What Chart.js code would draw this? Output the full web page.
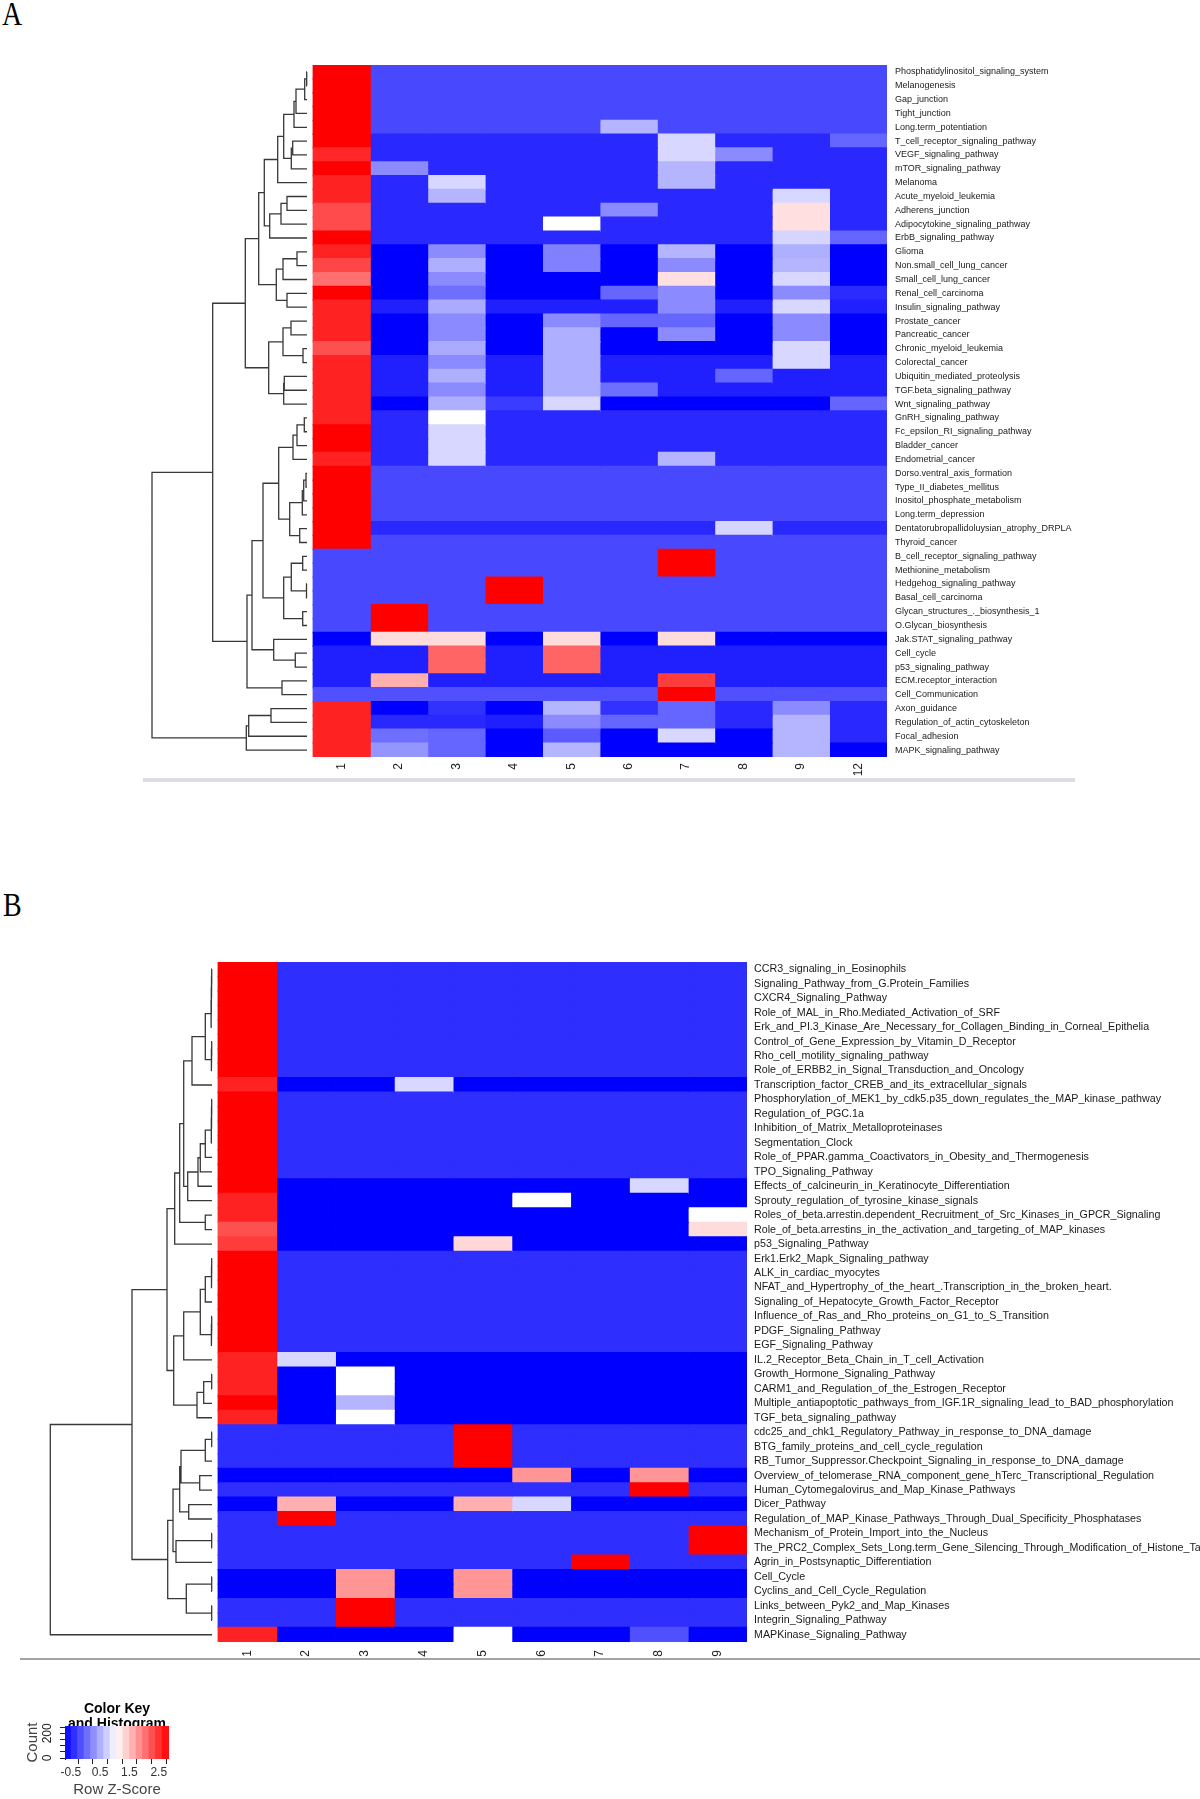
<!DOCTYPE html>
<html>
<head>
<meta charset="utf-8">
<script src="https://cdn.jsdelivr.net/npm/chart.js@4.4.1/dist/chart.umd.min.js"></script>
<style>
  body { margin: 0; background: #fff; width: 1200px; height: 1799px; position: relative; overflow: hidden; }
  canvas { position: absolute; }
  .tag { position: absolute; font-family: 'Liberation Serif', 'Times New Roman', serif; font-size: 28px; line-height: 28px; transform: scaleY(1.2); transform-origin: top left; color: #000; }
  .rule { position: absolute; }
</style>
</head>
<body>
<div class="tag" style="left:2px; top:-3px;">A</div>
<div class="tag" style="left:3px; top:888px;">B</div>
<canvas id="panelA" width="1200" height="800" style="left:0; top:0;"></canvas>
<div class="rule" style="left:143px; top:778px; width:932px; height:4px; background:#dcdce6;"></div>
<canvas id="panelB" width="1200" height="780" style="left:0; top:900px;"></canvas>
<div class="rule" style="left:20px; top:1658px; width:1180px; height:2px; background:#a4a4a4;"></div>
<canvas id="colorKey" width="234" height="109" style="left:0; top:1690px;"></canvas>
<script>
// Panel A: KEGG pathways (rows) x clusters (columns), row z-scores
const rowsA = [
  'Phosphatidylinositol_signaling_system', 'Melanogenesis', 'Gap_junction', 'Tight_junction',
  'Long.term_potentiation', 'T_cell_receptor_signaling_pathway', 'VEGF_signaling_pathway',
  'mTOR_signaling_pathway', 'Melanoma', 'Acute_myeloid_leukemia', 'Adherens_junction',
  'Adipocytokine_signaling_pathway', 'ErbB_signaling_pathway', 'Glioma', 'Non.small_cell_lung_cancer',
  'Small_cell_lung_cancer', 'Renal_cell_carcinoma', 'Insulin_signaling_pathway', 'Prostate_cancer',
  'Pancreatic_cancer', 'Chronic_myeloid_leukemia', 'Colorectal_cancer', 'Ubiquitin_mediated_proteolysis',
  'TGF.beta_signaling_pathway', 'Wnt_signaling_pathway', 'GnRH_signaling_pathway',
  'Fc_epsilon_RI_signaling_pathway', 'Bladder_cancer', 'Endometrial_cancer', 'Dorso.ventral_axis_formation',
  'Type_II_diabetes_mellitus', 'Inositol_phosphate_metabolism', 'Long.term_depression',
  'Dentatorubropallidoluysian_atrophy_DRPLA', 'Thyroid_cancer', 'B_cell_receptor_signaling_pathway',
  'Methionine_metabolism', 'Hedgehog_signaling_pathway', 'Basal_cell_carcinoma',
  'Glycan_structures_._biosynthesis_1', 'O.Glycan_biosynthesis', 'Jak.STAT_signaling_pathway',
  'Cell_cycle', 'p53_signaling_pathway', 'ECM.receptor_interaction', 'Cell_Communication',
  'Axon_guidance', 'Regulation_of_actin_cytoskeleton', 'Focal_adhesion', 'MAPK_signaling_pathway'
];
const colsA = ['1', '2', '3', '4', '5', '6', '7', '8', '9', '12'];
const zA = [
  [2.85, -0.2, -0.2, -0.2, -0.2, -0.2, -0.2, -0.2, -0.2, -0.2],
  [2.85, -0.2, -0.2, -0.2, -0.2, -0.2, -0.2, -0.2, -0.2, -0.2],
  [2.85, -0.2, -0.2, -0.2, -0.2, -0.2, -0.2, -0.2, -0.2, -0.2],
  [2.85, -0.2, -0.2, -0.2, -0.2, -0.2, -0.2, -0.2, -0.2, -0.2],
  [2.85, -0.2, -0.2, -0.2, -0.2, 0.55, -0.2, -0.2, -0.2, -0.2],
  [2.85, -0.42, -0.42, -0.42, -0.42, -0.42, 0.8, -0.42, -0.42, 0.0],
  [2.58, -0.42, -0.42, -0.42, -0.42, -0.42, 0.8, 0.27, -0.42, -0.42],
  [2.85, 0.27, -0.42, -0.42, -0.42, -0.42, 0.55, -0.42, -0.42, -0.42],
  [2.61, -0.42, 0.8, -0.42, -0.42, -0.42, 0.55, -0.42, -0.42, -0.42],
  [2.61, -0.42, 0.55, -0.42, -0.42, -0.42, -0.42, -0.42, 0.8, -0.42],
  [2.33, -0.42, -0.42, -0.42, -0.42, 0.27, -0.42, -0.42, 1.3, -0.42],
  [2.33, -0.42, -0.42, -0.42, 1.075, -0.42, -0.42, -0.42, 1.3, -0.42],
  [2.85, -0.42, -0.42, -0.42, -0.42, -0.42, -0.42, -0.42, 0.78, 0.0],
  [2.61, -0.7, 0.27, -0.7, 0.2, -0.7, 0.55, -0.7, 0.52, -0.7],
  [2.36, -0.7, 0.52, -0.7, 0.2, -0.7, 0.27, -0.7, 0.55, -0.7],
  [2.08, -0.7, 0.27, -0.7, -0.7, -0.7, 1.3, -0.7, 0.8, -0.7],
  [2.85, -0.7, 0.07, -0.7, -0.7, 0.0, 0.27, -0.7, 0.27, -0.4],
  [2.61, -0.48, 0.48, -0.48, -0.48, -0.48, 0.27, -0.48, 0.8, -0.48],
  [2.61, -0.7, 0.27, -0.7, 0.27, 0.0, 0.0, -0.7, 0.27, -0.7],
  [2.61, -0.7, 0.27, -0.7, 0.52, -0.7, 0.27, -0.7, 0.27, -0.7],
  [2.29, -0.7, 0.48, -0.7, 0.52, -0.7, -0.7, -0.7, 0.8, -0.7],
  [2.61, -0.48, 0.27, -0.48, 0.52, -0.48, -0.48, -0.48, 0.8, -0.48],
  [2.61, -0.48, 0.52, -0.48, 0.52, -0.48, -0.48, 0.0, -0.48, -0.48],
  [2.61, -0.48, 0.27, -0.48, 0.52, 0.07, -0.48, -0.48, -0.48, -0.48],
  [2.61, -0.7, 0.52, -0.28, 0.8, -0.7, -0.7, -0.7, -0.7, 0.0],
  [2.61, -0.42, 1.075, -0.42, -0.42, -0.42, -0.42, -0.42, -0.42, -0.42],
  [2.85, -0.42, 0.8, -0.42, -0.42, -0.42, -0.42, -0.42, -0.42, -0.42],
  [2.85, -0.42, 0.8, -0.42, -0.42, -0.42, -0.42, -0.42, -0.42, -0.42],
  [2.61, -0.42, 0.8, -0.42, -0.42, -0.42, 0.55, -0.42, -0.42, -0.42],
  [2.85, -0.2, -0.2, -0.2, -0.2, -0.2, -0.2, -0.2, -0.2, -0.2],
  [2.85, -0.2, -0.2, -0.2, -0.2, -0.2, -0.2, -0.2, -0.2, -0.2],
  [2.85, -0.2, -0.2, -0.2, -0.2, -0.2, -0.2, -0.2, -0.2, -0.2],
  [2.85, -0.2, -0.2, -0.2, -0.2, -0.2, -0.2, -0.2, -0.2, -0.2],
  [2.85, -0.42, -0.42, -0.42, -0.42, -0.42, -0.42, 0.78, -0.42, -0.42],
  [2.85, -0.2, -0.2, -0.2, -0.2, -0.2, -0.2, -0.2, -0.2, -0.2],
  [-0.2, -0.2, -0.2, -0.2, -0.2, -0.2, 2.85, -0.2, -0.2, -0.2],
  [-0.2, -0.2, -0.2, -0.2, -0.2, -0.2, 2.85, -0.2, -0.2, -0.2],
  [-0.2, -0.2, -0.2, 2.85, -0.2, -0.2, -0.2, -0.2, -0.2, -0.2],
  [-0.2, -0.2, -0.2, 2.85, -0.2, -0.2, -0.2, -0.2, -0.2, -0.2],
  [-0.2, 2.85, -0.2, -0.2, -0.2, -0.2, -0.2, -0.2, -0.2, -0.2],
  [-0.2, 2.85, -0.2, -0.2, -0.2, -0.2, -0.2, -0.2, -0.2, -0.2],
  [-0.7, 1.32, 1.32, -0.7, 1.32, -0.7, 1.32, -0.7, -0.7, -0.7],
  [-0.48, -0.48, 2.15, -0.48, 2.15, -0.48, -0.48, -0.48, -0.48, -0.48],
  [-0.48, -0.48, 2.15, -0.48, 2.15, -0.48, -0.48, -0.48, -0.48, -0.48],
  [-0.48, 1.63, -0.48, -0.48, -0.48, -0.48, 2.43, -0.48, -0.48, -0.48],
  [-0.14, -0.14, -0.14, -0.14, -0.14, -0.14, 2.85, -0.14, -0.14, -0.14],
  [2.61, -0.7, -0.35, -0.7, 0.55, -0.35, 0.0, -0.42, 0.27, -0.42],
  [2.61, -0.42, -0.42, -0.48, 0.27, 0.0, 0.0, -0.42, 0.55, -0.42],
  [2.61, 0.07, 0.0, -0.7, -0.07, -0.7, 0.8, -0.7, 0.55, -0.42],
  [2.61, 0.34, 0.0, -0.7, 0.55, -0.7, -0.7, -0.7, 0.55, -0.7]
];
// row dendrogram A, hclust style: negative = leaf (row number), positive = earlier merge
const mergeA = [
  [-1, -2], [1, -3], [2, -4], [3, -5], [-6, -7], [5, -8], [4, 6], [7, -9], [-10, -11], [9, -12],
  [10, -13], [8, 11], [-14, -15], [13, -16], [-17, -18], [14, 15], [12, 16], [-19, -20], [-21, -22], [18, 19],
  [-23, -24], [21, -25], [20, 22], [17, 23], [-26, -27], [25, -28], [26, -29], [-30, -31], [28, -32], [29, -33],
  [-34, -35], [30, 31], [27, 32], [-36, -37], [-38, -39], [34, 35], [-40, -41], [36, 37], [33, 38], [-43, -44],
  [-42, 40], [39, 41], [-45, -46], [42, 43], [24, 44], [-47, -48], [46, -49], [47, -50], [45, 48]
];
const heightA = [
  0.3, 2.3, 11, 13, 14.3, 15.7, 23.3, 29.3, 20, 26,
  37.3, 42.7, 10, 24, 20, 30.7, 48.3, 16, 4, 24,
  22.7, 23.3, 38.3, 61.7, 2.7, 10, 14, 1, 3.3, 4.7,
  7.3, 17.3, 28.3, 4.3, 0.5, 15.7, 4.3, 23.3, 44, 11.7,
  33.3, 55, 25, 60, 94.3, 36, 58.3, 60.7, 155
];

// Panel B: BioCarta pathways (rows) x clusters (columns)
const rowsB = [
  'CCR3_signaling_in_Eosinophils', 'Signaling_Pathway_from_G.Protein_Families', 'CXCR4_Signaling_Pathway',
  'Role_of_MAL_in_Rho.Mediated_Activation_of_SRF',
  'Erk_and_PI.3_Kinase_Are_Necessary_for_Collagen_Binding_in_Corneal_Epithelia',
  'Control_of_Gene_Expression_by_Vitamin_D_Receptor', 'Rho_cell_motility_signaling_pathway',
  'Role_of_ERBB2_in_Signal_Transduction_and_Oncology', 'Transcription_factor_CREB_and_its_extracellular_signals',
  'Phosphorylation_of_MEK1_by_cdk5.p35_down_regulates_the_MAP_kinase_pathway', 'Regulation_of_PGC.1a',
  'Inhibition_of_Matrix_Metalloproteinases', 'Segmentation_Clock',
  'Role_of_PPAR.gamma_Coactivators_in_Obesity_and_Thermogenesis', 'TPO_Signaling_Pathway',
  'Effects_of_calcineurin_in_Keratinocyte_Differentiation', 'Sprouty_regulation_of_tyrosine_kinase_signals',
  'Roles_of_beta.arrestin.dependent_Recruitment_of_Src_Kinases_in_GPCR_Signaling',
  'Role_of_beta.arrestins_in_the_activation_and_targeting_of_MAP_kinases', 'p53_Signaling_Pathway',
  'Erk1.Erk2_Mapk_Signaling_pathway', 'ALK_in_cardiac_myocytes',
  'NFAT_and_Hypertrophy_of_the_heart_.Transcription_in_the_broken_heart.',
  'Signaling_of_Hepatocyte_Growth_Factor_Receptor', 'Influence_of_Ras_and_Rho_proteins_on_G1_to_S_Transition',
  'PDGF_Signaling_Pathway', 'EGF_Signaling_Pathway', 'IL.2_Receptor_Beta_Chain_in_T_cell_Activation',
  'Growth_Hormone_Signaling_Pathway', 'CARM1_and_Regulation_of_the_Estrogen_Receptor',
  'Multiple_antiapoptotic_pathways_from_IGF.1R_signaling_lead_to_BAD_phosphorylation',
  'TGF_beta_signaling_pathway', 'cdc25_and_chk1_Regulatory_Pathway_in_response_to_DNA_damage',
  'BTG_family_proteins_and_cell_cycle_regulation',
  'RB_Tumor_Suppressor.Checkpoint_Signaling_in_response_to_DNA_damage',
  'Overview_of_telomerase_RNA_component_gene_hTerc_Transcriptional_Regulation',
  'Human_Cytomegalovirus_and_Map_Kinase_Pathways', 'Dicer_Pathway',
  'Regulation_of_MAP_Kinase_Pathways_Through_Dual_Specificity_Phosphatases',
  'Mechanism_of_Protein_Import_into_the_Nucleus',
  'The_PRC2_Complex_Sets_Long.term_Gene_Silencing_Through_Modification_of_Histone_Tails',
  'Agrin_in_Postsynaptic_Differentiation', 'Cell_Cycle', 'Cyclins_and_Cell_Cycle_Regulation',
  'Links_between_Pyk2_and_Map_Kinases', 'Integrin_Signaling_Pathway', 'MAPKinase_Signaling_Pathway'
];
const colsB = ['1', '2', '3', '4', '5', '6', '7', '8', '9'];
const zB = [
  [2.85, -0.38, -0.38, -0.38, -0.38, -0.38, -0.38, -0.38, -0.38],
  [2.85, -0.38, -0.38, -0.38, -0.38, -0.38, -0.38, -0.38, -0.38],
  [2.85, -0.38, -0.38, -0.38, -0.38, -0.38, -0.38, -0.38, -0.38],
  [2.85, -0.38, -0.38, -0.38, -0.38, -0.38, -0.38, -0.38, -0.38],
  [2.85, -0.38, -0.38, -0.38, -0.38, -0.38, -0.38, -0.38, -0.38],
  [2.85, -0.38, -0.38, -0.38, -0.38, -0.38, -0.38, -0.38, -0.38],
  [2.85, -0.38, -0.38, -0.38, -0.38, -0.38, -0.38, -0.38, -0.38],
  [2.85, -0.38, -0.38, -0.38, -0.38, -0.38, -0.38, -0.38, -0.38],
  [2.61, -0.7, -0.7, 0.8, -0.7, -0.7, -0.7, -0.7, -0.7],
  [2.85, -0.38, -0.38, -0.38, -0.38, -0.38, -0.38, -0.38, -0.38],
  [2.85, -0.38, -0.38, -0.38, -0.38, -0.38, -0.38, -0.38, -0.38],
  [2.85, -0.38, -0.38, -0.38, -0.38, -0.38, -0.38, -0.38, -0.38],
  [2.85, -0.38, -0.38, -0.38, -0.38, -0.38, -0.38, -0.38, -0.38],
  [2.85, -0.38, -0.38, -0.38, -0.38, -0.38, -0.38, -0.38, -0.38],
  [2.85, -0.38, -0.38, -0.38, -0.38, -0.38, -0.38, -0.38, -0.38],
  [2.85, -0.7, -0.7, -0.7, -0.7, -0.7, -0.7, 0.8, -0.7],
  [2.61, -0.7, -0.7, -0.7, -0.7, 1.075, -0.7, -0.7, -0.7],
  [2.61, -0.7, -0.7, -0.7, -0.7, -0.7, -0.7, -0.7, 1.075],
  [2.29, -0.7, -0.7, -0.7, -0.7, -0.7, -0.7, -0.7, 1.32],
  [2.43, -0.7, -0.7, -0.7, 1.35, -0.7, -0.7, -0.7, -0.7],
  [2.85, -0.38, -0.38, -0.38, -0.38, -0.38, -0.38, -0.38, -0.38],
  [2.85, -0.38, -0.38, -0.38, -0.38, -0.38, -0.38, -0.38, -0.38],
  [2.85, -0.38, -0.38, -0.38, -0.38, -0.38, -0.38, -0.38, -0.38],
  [2.85, -0.38, -0.38, -0.38, -0.38, -0.38, -0.38, -0.38, -0.38],
  [2.85, -0.38, -0.38, -0.38, -0.38, -0.38, -0.38, -0.38, -0.38],
  [2.85, -0.38, -0.38, -0.38, -0.38, -0.38, -0.38, -0.38, -0.38],
  [2.85, -0.38, -0.38, -0.38, -0.38, -0.38, -0.38, -0.38, -0.38],
  [2.61, 0.8, -0.7, -0.7, -0.7, -0.7, -0.7, -0.7, -0.7],
  [2.61, -0.7, 1.075, -0.7, -0.7, -0.7, -0.7, -0.7, -0.7],
  [2.61, -0.7, 1.075, -0.7, -0.7, -0.7, -0.7, -0.7, -0.7],
  [2.85, -0.7, 0.55, -0.7, -0.7, -0.7, -0.7, -0.7, -0.7],
  [2.61, -0.7, 1.075, -0.7, -0.7, -0.7, -0.7, -0.7, -0.7],
  [-0.38, -0.38, -0.38, -0.38, 2.85, -0.38, -0.38, -0.38, -0.38],
  [-0.38, -0.38, -0.38, -0.38, 2.85, -0.38, -0.38, -0.38, -0.38],
  [-0.38, -0.38, -0.38, -0.38, 2.85, -0.38, -0.38, -0.38, -0.38],
  [-0.7, -0.7, -0.7, -0.7, -0.7, 1.81, -0.7, 1.81, -0.7],
  [-0.38, -0.38, -0.38, -0.38, -0.38, -0.38, -0.38, 2.85, -0.38],
  [-0.7, 1.63, -0.7, -0.7, 1.63, 0.8, -0.7, -0.7, -0.7],
  [-0.38, 2.85, -0.38, -0.38, -0.38, -0.38, -0.38, -0.38, -0.38],
  [-0.38, -0.38, -0.38, -0.38, -0.38, -0.38, -0.38, -0.38, 2.85],
  [-0.38, -0.38, -0.38, -0.38, -0.38, -0.38, -0.38, -0.38, 2.85],
  [-0.38, -0.38, -0.38, -0.38, -0.38, -0.38, 2.85, -0.38, -0.38],
  [-0.7, -0.7, 1.81, -0.7, 1.81, -0.7, -0.7, -0.7, -0.7],
  [-0.7, -0.7, 1.81, -0.7, 1.81, -0.7, -0.7, -0.7, -0.7],
  [-0.38, -0.38, 2.85, -0.38, -0.38, -0.38, -0.38, -0.38, -0.38],
  [-0.38, -0.38, 2.85, -0.38, -0.38, -0.38, -0.38, -0.38, -0.38],
  [2.61, -0.7, -0.7, -0.7, 1.075, -0.7, -0.7, -0.14, -0.7]
];
const mergeB = [
  [-1, -2], [1, -3], [2, -4], [3, -5], [-6, -7], [5, -8], [4, 6], [7, -9], [-10, -11], [9, -12],
  [10, -13], [11, -14], [12, -15], [13, -16], [14, -17], [8, 15], [-18, -19], [16, 17], [18, -20], [-21, -22],
  [20, -23], [21, -24], [-25, -26], [23, -27], [22, 24], [25, -28], [-29, -30], [27, -31], [28, -32], [26, 29],
  [19, 30], [-33, -34], [32, -35], [-36, -37], [33, 34], [-38, -39], [35, 36], [-40, -41], [38, -42], [37, 39],
  [-43, -44], [-45, -46], [41, 42], [40, 43], [31, 44], [45, -47]
];
const heightB = [
  0.3, 0.5, 0.7, 0.9, 0.3, 0.6, 6.7, 20, 0.3, 0.5,
  0.7, 6.7, 11.7, 14, 24.3, 28.3, 6.7, 32.3, 37.3, 0.3,
  0.5, 6.7, 0.3, 0.6, 11.7, 28.3, 0.3, 8.3, 15, 38.3,
  45, 0.3, 6.7, 12.3, 31, 23.3, 32.3, 0.3, 36, 39,
  0.3, 0.3, 25.7, 44.3, 80, 161.7
];

// Colour key: bin breaks of the Row Z-Score scale and histogram of counts
const keyBreaks = [-0.7, -0.48, -0.26, -0.04, 0.18, 0.41, 0.63, 0.85, 1.07, 1.29, 1.51, 1.74, 1.96, 2.18, 2.4, 2.62, 2.85];
const keyTicks = [-0.5, 0, 0.5, 1, 1.5, 2, 2.5];
const histX = [-0.7, -0.7, -0.68, -0.25, 2.5, 2.85];
const histY = [0, 120, 245, 4, 27, 27];

const zMin = -0.7, zMax = 2.85;
const labelFont = "'Liberation Sans', Arial, sans-serif";
Chart.defaults.font.family = "'Liberation Sans', Arial, sans-serif";

// blue - white - red palette (bluered)
function zColor(v) {
  const t = Math.min(1, Math.max(0, (v - zMin) / (zMax - zMin)));
  if (t < 0.5) {
    const c = Math.round(510 * t);
    return `rgb(${c},${c},255)`;
  }
  const c = Math.round(510 * (1 - t));
  return `rgb(255,${c},${c})`;
}

// elbow segments of the dendrogram, gaps between merges
function dendroLines(merges, heights) {
  const centre = [];
  const pts = [];
  const node = k => k < 0 ? { y: -k - 1, h: 0 } : { y: centre[k - 1], h: heights[k - 1] };
  merges.forEach(([a, b], i) => {
    const p = node(a), q = node(b), h = heights[i];
    pts.push({ x: p.h, y: p.y }, { x: h, y: p.y }, { x: h, y: q.y }, { x: q.h, y: q.y }, { x: null, y: null });
    centre.push((p.y + q.y) / 2);
  });
  return pts;
}

// one heatmap panel with its row dendrogram
function drawPanel(id, rows, cols, z, merges, heights, g) {
  const canvas = document.getElementById(id);
  const left = g.left, right = g.right;
  const rowH = (canvas.height - g.top - g.bottom - g.axisH) / rows.length;
  const datasets = cols.map((c, j) => ({
    type: 'bar',
    label: c,
    data: rows.map(() => 1),
    backgroundColor: z.map(r => zColor(r[j])),
    borderWidth: 0,
    grouped: false,
    barPercentage: 1,
    categoryPercentage: 1,
    barThickness: rowH + 0.6,
    inflateAmount: 0.4,
    xAxisID: 'x',
    yAxisID: 'y'
  }));
  datasets.push({
    type: 'line',
    indexAxis: 'x',
    data: dendroLines(merges, heights),
    xAxisID: 'xd',
    yAxisID: 'yd',
    borderColor: '#383838',
    borderWidth: 1.3,
    pointRadius: 0,
    spanGaps: false,
    tension: 0,
    fill: false
  });
  new Chart(canvas.getContext('2d'), {
    type: 'bar',
    data: { labels: rows, datasets: datasets },
    options: {
      responsive: false,
      animation: false,
      indexAxis: 'y',
      datasets: { bar: { grouped: false, barPercentage: 1, categoryPercentage: 1 } },
      layout: { padding: { left: left, top: g.top, right: 0, bottom: g.bottom } },
      plugins: { legend: { display: false }, tooltip: { enabled: false } },
      scales: {
        x: {
          type: 'linear', position: 'bottom', stacked: true, offset: false,
          min: -cols.length * (g.heat - left) / (right - g.heat), max: cols.length,
          grid: { display: false, drawTicks: false }, border: { display: false },
          afterBuildTicks: s => { s.ticks = cols.map((c, i) => ({ value: i + 0.5 })); },
          afterFit: s => { s.height = g.axisH; },
          ticks: {
            autoSkip: false, minRotation: 90, maxRotation: 90, padding: g.numPad, color: '#222',
            font: { size: 12 },
            callback: (v, i) => cols[i]
          }
        },
        y: {
          type: 'category', position: 'right', stacked: true, offset: true,
          grid: { display: false, drawTicks: false }, border: { display: false },
          afterFit: s => { s.width = canvas.width - right; },
          ticks: { autoSkip: false, padding: g.labelPad, color: '#1a1a1a', font: { family: labelFont, size: g.labelSize } }
        },
        xd: { type: 'linear', axis: 'x', display: false, offset: false, reverse: true, min: g.tip - left - (right - left), max: g.tip - left },
        yd: { type: 'linear', axis: 'y', display: false, offset: false, reverse: true, min: -0.5, max: rows.length - 0.5 }
      }
    }
  });
}

drawPanel('panelA', rowsA, colsA, zA, mergeA, heightA,
  { left: 145, heat: 313, right: 887, tip: 307, top: 65, bottom: 13, axisH: 30, labelPad: 8, labelSize: 9, numPad: 6 });
drawPanel('panelB', rowsB, colsB, zB, mergeB, heightB,
  { left: 45, heat: 218, right: 747, tip: 212, top: 62, bottom: 10, axisH: 28, labelPad: 7, labelSize: 10.7, numPad: 8 });

// rotated count labels of the histogram axis
const countLabels = {
  id: 'countLabels',
  afterDraw(chart) {
    const s = chart.scales.y;
    const c = chart.ctx;
    c.save();
    c.font = "12px 'Liberation Sans', Arial, sans-serif";
    c.fillStyle = '#222';
    c.textAlign = 'center';
    c.textBaseline = 'middle';
    [0, 200].forEach(v => {
      c.save();
      c.translate(s.right - 17, s.getPixelForValue(v));
      c.rotate(-Math.PI / 2);
      c.fillText(String(v), 0, 0);
      c.restore();
    });
    c.restore();
  }
};

const keyCentres = keyBreaks.slice(1).map((b, i) => (b + keyBreaks[i]) / 2);
new Chart(document.getElementById('colorKey').getContext('2d'), {
  type: 'bar',
  data: {
    datasets: [{
      type: 'bar',
      data: keyCentres.map(c => ({ x: c, y: 1 })),
      backgroundColor: keyCentres.map(zColor),
      borderWidth: 0,
      grouped: false,
      barPercentage: 1,
      categoryPercentage: 1,
      barThickness: 7.2,
      xAxisID: 'x',
      yAxisID: 'yk'
    }, {
      type: 'line',
      data: histX.map((x, i) => ({ x: x, y: histY[i] })),
      stepped: 'after',
      borderColor: '#00ffff',
      borderWidth: 1.5,
      pointRadius: 0,
      xAxisID: 'x',
      yAxisID: 'y'
    }]
  },
  options: {
    responsive: false,
    animation: false,
    layout: { padding: 0 },
    plugins: {
      legend: { display: false },
      tooltip: { enabled: false },
      title: {
        display: true, text: ['Color Key', 'and Histogram'], color: '#000',
        font: { size: 14, weight: 'bold', lineHeight: 1.05 }, padding: { top: 12, bottom: -5.4 }
      }
    },
    scales: {
      x: {
        type: 'linear', min: zMin, max: zMax, offset: false,
        grid: { drawOnChartArea: false, drawTicks: true, tickLength: 5, color: '#222' },
        border: { display: false },
        afterBuildTicks: s => { s.ticks = keyTicks.map(v => ({ value: v })); },
        afterFit: s => { s.height = 40; },
        ticks: {
          autoSkip: false, maxRotation: 0, padding: 1, color: '#333', font: { size: 12 },
          callback: v => [-0.5, 0.5, 1.5, 2.5].includes(v) ? String(v) : ''
        },
        title: { display: true, text: 'Row Z-Score', color: '#444', font: { size: 15 }, padding: 0 }
      },
      y: {
        type: 'linear', position: 'left', min: -8, max: 259, offset: false,
        grid: { drawOnChartArea: false, drawTicks: true, tickLength: 5, color: '#222' },
        border: { display: true, color: '#222' },
        afterBuildTicks: s => { s.ticks = [0, 50, 100, 150, 200, 250].map(v => ({ value: v })); },
        afterFit: s => { s.width = 65; },
        ticks: { display: false },
        title: { display: true, text: 'Count', color: '#444', font: { size: 15 }, padding: { top: 24, bottom: 0 } }
      },
      yk: {
        type: 'linear', position: 'right', min: 0, max: 1, offset: false,
        grid: { display: false, drawTicks: false }, border: { display: false },
        ticks: { display: false },
        afterFit: s => { s.width = 65; }
      }
    }
  },
  plugins: [countLabels]
});
</script>
</body>
</html>
